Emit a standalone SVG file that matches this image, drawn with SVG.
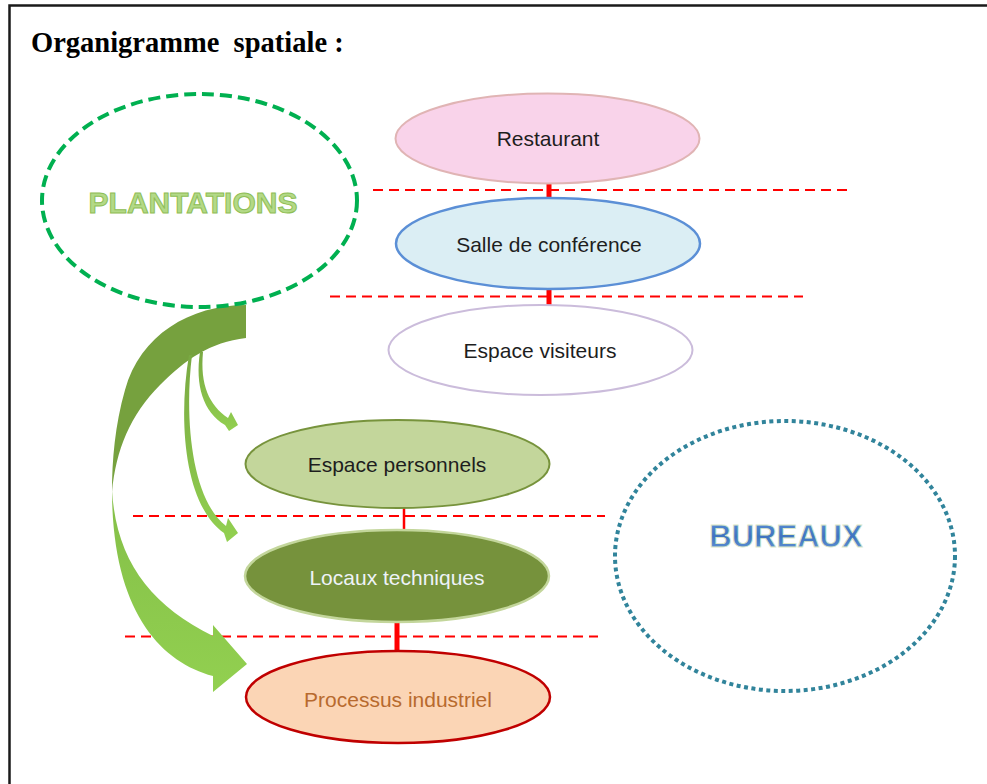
<svg xmlns="http://www.w3.org/2000/svg" width="987" height="784" viewBox="0 0 987 784">
  <style>
    .lbl { font-family: "Liberation Sans", Arial, sans-serif; font-size: 21px; text-anchor: middle; fill: #1e1e1e; }
    .lbl.light { fill: #eef3f8; }
    .lbl.rust { fill: #b86a2e; }
    .sep { stroke: #ff0000; stroke-width: 2; stroke-dasharray: 10 6; fill: none; }
    .link { stroke: #ff0000; fill: none; }
    .zone { font-family: "Liberation Sans", Arial, sans-serif; font-weight: bold; text-anchor: middle; }
  </style>
  <defs>
    <linearGradient id="lightArrow" x1="0" y1="0" x2="0" y2="1">
      <stop offset="0" stop-color="#84bf48"/>
      <stop offset="1" stop-color="#92d050"/>
    </linearGradient>
    <linearGradient id="thinArrow" x1="0" y1="0" x2="0" y2="1">
      <stop offset="0" stop-color="#79a942"/>
      <stop offset="1" stop-color="#92d050"/>
    </linearGradient>
    <linearGradient id="blueText" x1="0" y1="0" x2="0" y2="1">
      <stop offset="0" stop-color="#5b8fd6"/>
      <stop offset="0.5" stop-color="#3f74c0"/>
      <stop offset="1" stop-color="#6a9ad8"/>
    </linearGradient>
  </defs>

  <rect width="987" height="784" fill="#ffffff"/>

  <!-- page frame -->
  <g id="frame" fill="none" stroke="#1a1a1a" stroke-width="2.5">
    <path d="M9.5,784 V5.5 H987"/>
  </g>

  <text x="31" y="51.5" font-family="'Liberation Serif', 'Times New Roman', serif" font-weight="bold" font-size="28.5" fill="#000" xml:space="preserve">Organigramme  spatiale :</text>

  <!-- floor separators and links -->
  <g id="connectors">
    <line class="sep" x1="373" y1="190" x2="848" y2="190"/>
    <line class="sep" x1="330" y1="296.5" x2="803" y2="296.5"/>
    <line class="sep" x1="133" y1="516" x2="605" y2="516"/>
    <line class="sep" x1="125" y1="636.5" x2="598" y2="636.5"/>
    <line class="link" x1="549" y1="177" x2="549" y2="199" stroke-width="5"/>
    <line class="link" x1="549" y1="289" x2="549" y2="312" stroke-width="5"/>
    <line class="link" x1="404" y1="508" x2="404" y2="531" stroke-width="2.5"/>
    <line class="link" x1="397" y1="621" x2="397" y2="651" stroke-width="5"/>
  </g>

  <!-- plantations flows -->
  <g id="flows">
    <path d="M112,490 C116,560 150,605 213,636 L213,625 L247,664 L213,692 L213,676 C160,662 112,610 112,490 Z" fill="url(#lightArrow)"/>
    <path d="M246,305 C190,305 140,335 125,390 C115,425 112,460 112,492 C116,450 130,415 160,385 C185,360 210,342 246,338 Z" fill="#76a13e"/>
    <path d="M203,352 C200,385 209,405 228,418 L231,412 L238,425 L229,431 L225,425 C203,412 195,385 200,352 Z" fill="url(#thinArrow)"/>
    <path d="M192,355 C184,420 192,500 226,526 L228,518 L238,533 L227,542 L224,533 C184,505 178,420 189,355 Z" fill="url(#thinArrow)"/>
  </g>

  <g id="plantations">
    <ellipse cx="199.5" cy="200.5" rx="157.5" ry="106.5" fill="none" stroke="#00b050" stroke-width="4" stroke-dasharray="12 6"/>
    <text class="zone" x="193" y="213" font-size="30" fill="#b3d987" stroke="#8fbe55" stroke-width="1">PLANTATIONS</text>
  </g>

  <g id="bureaux">
    <ellipse cx="785" cy="556" rx="170" ry="135" fill="none" stroke="#31849b" stroke-width="4" stroke-dasharray="4 3.5"/>
    <text class="zone" x="786" y="547" font-size="31" fill="url(#blueText)" stroke="#dce8c8" stroke-width="0.8">BUREAUX</text>
  </g>

  <g id="restaurant">
    <ellipse cx="547.5" cy="138.5" rx="152" ry="45" fill="#f9d3ea" stroke="#e0b4b4" stroke-width="2"/>
    <text class="lbl" x="548" y="146">Restaurant</text>
  </g>

  <g id="salle-conference">
    <ellipse cx="548" cy="243.5" rx="152" ry="45.5" fill="#dbeef4" stroke="#5b8fd6" stroke-width="2.5"/>
    <text class="lbl" x="549" y="252">Salle de conférence</text>
  </g>

  <g id="espace-visiteurs">
    <ellipse cx="540.5" cy="350" rx="152" ry="45" fill="#ffffff" stroke="#cbbcdb" stroke-width="2"/>
    <text class="lbl" x="540" y="358">Espace visiteurs</text>
  </g>

  <g id="espace-personnels">
    <ellipse cx="397.5" cy="464" rx="152" ry="44" fill="#c3d69b" stroke="#77933c" stroke-width="2"/>
    <text class="lbl" x="397" y="472">Espace personnels</text>
  </g>

  <g id="locaux-techniques">
    <ellipse cx="397" cy="576" rx="152" ry="46" fill="#76923c" stroke="#c3d69b" stroke-width="2.5"/>
    <text class="lbl light" x="397" y="585">Locaux techniques</text>
  </g>

  <g id="processus-industriel">
    <ellipse cx="398" cy="697" rx="152" ry="46" fill="#fbd5b5" stroke="#c00000" stroke-width="2.5"/>
    <text class="lbl rust" x="398" y="707">Processus industriel</text>
  </g>
</svg>
